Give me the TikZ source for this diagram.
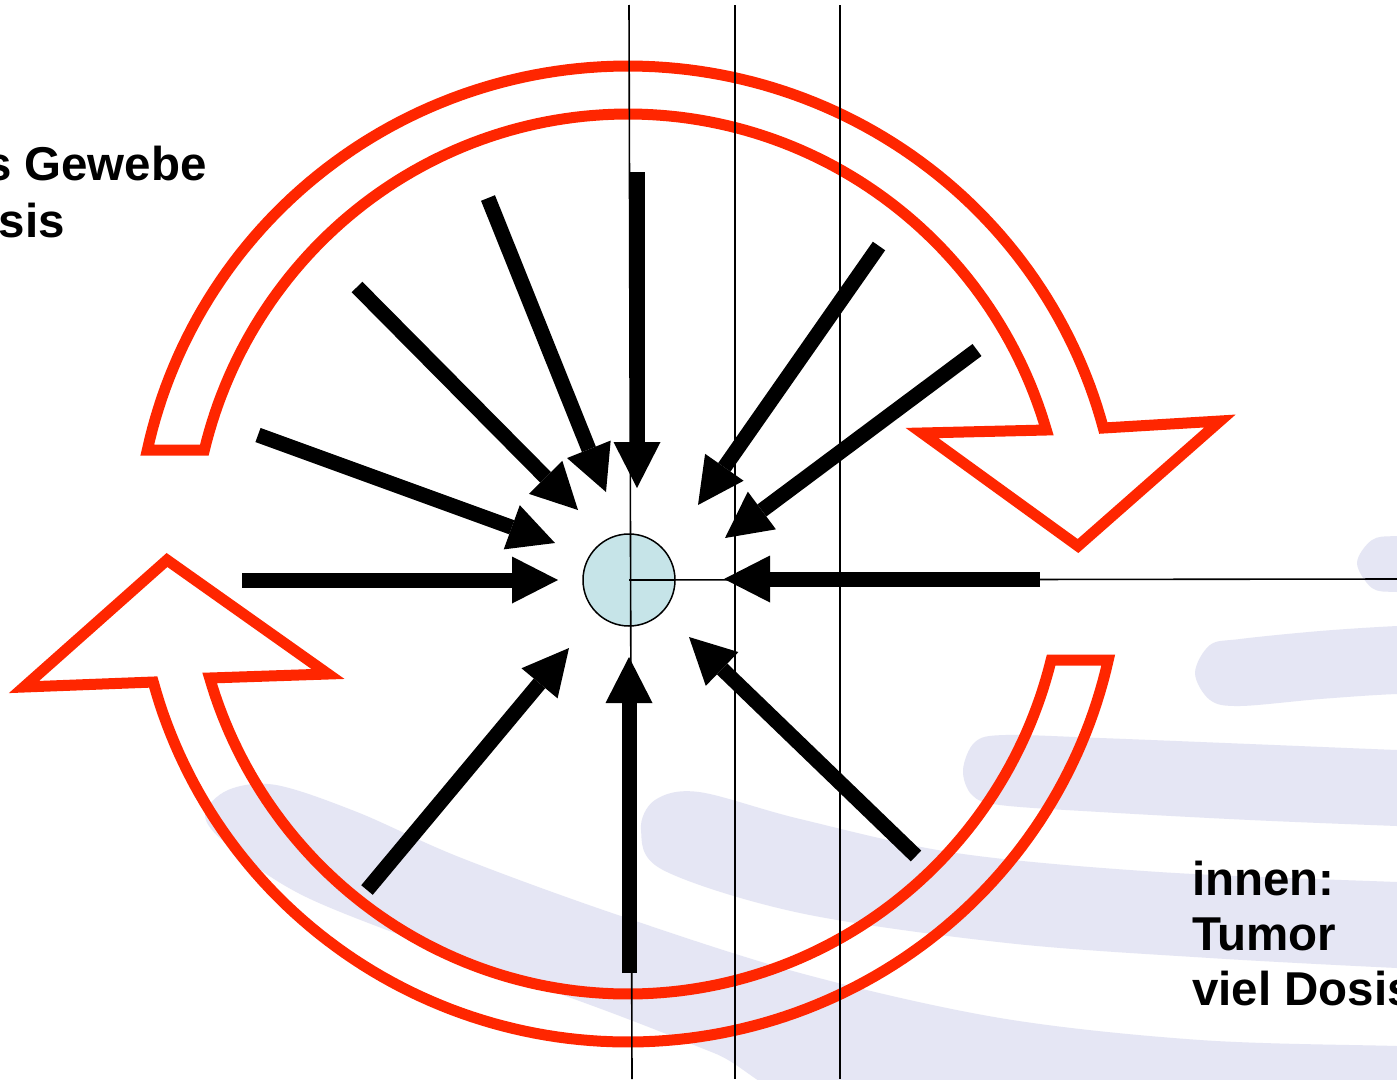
\documentclass[tikz,border=0pt]{standalone}
\usepackage{fontspec}
\setmainfont{Liberation Sans}
\usetikzlibrary{arrows.meta}
\definecolor{ringred}{RGB}{255,38,0}
\definecolor{wmark}{RGB}{229,230,244}
\definecolor{tumorfill}{RGB}{198,228,232}
\begin{document}
\begin{tikzpicture}[x=1pt,y=-1pt,
  ringarrow/.style={draw=ringred, line width=11pt, line join=miter},
  ray/.style={line width=15pt, -{Triangle[length=46pt,width=47pt,line width=0pt]}},
  thinline/.style={line width=1.6pt},
  gridline/.style={line width=2.2pt},
  txt/.style={font=\fontsize{47.5pt}{56pt}\selectfont\bfseries, inner sep=0pt},
  wm/.style={fill=wmark}
]
\useasboundingbox (0,0) rectangle (1397,1079);
\clip (0,0) rectangle (1397,1079);
\fill[white] (0,0) rectangle (1397,1079);

% watermark bands
\fill[wm] plot[smooth cycle, tension=0.55] coordinates {(1357,563) (1372,540) (1397,536) (1460,536) (1460,592) (1397,592) (1372,588)};
\fill[wm] plot[smooth cycle, tension=0.55] coordinates {(1195,673) (1210,645) (1240,639) (1320,631) (1397,626) (1460,624) (1460,694) (1397,694) (1320,699) (1240,706) (1210,700)};
\fill[wm] plot[smooth cycle, tension=0.55] coordinates {(963,770) (975,742) (1005,735) (1100,738) (1250,744) (1397,750) (1460,752) (1460,828) (1397,826) (1250,820) (1100,812) (1000,805) (972,795)};
\fill[wm] plot[smooth cycle, tension=0.55] coordinates {(641,830) (655,800) (699,792) (800,819) (956,853) (1159,872) (1397,882) (1460,884) (1460,970) (1397,968) (1210,958) (1007,943) (800,913) (663,870)};
\fill[wm] plot[smooth cycle, tension=0.55] coordinates {(205,815) (228,790) (276,785) (357,812) (459,857) (612,913) (800,973) (1000,1018) (1200,1040) (1397,1046) (1460,1048) (1460,1140) (880,1120) (714,1053) (612,1013) (459,957) (306,897) (228,845)};

% red circular block arrows
\draw[ringarrow] plot[domain=192.30:345.04, samples=120] ({628+492*cos(\x)},{554+488*sin(\x)})
  -- (1220,421) -- (1078,546) -- (922,433)
  -- plot[domain=343.63:193.67, samples=120] ({628+436*cos(\x)},{554+440*sin(\x)}) -- cycle;
\draw[ringarrow] plot[domain=12.55:164.79, samples=120] ({628+492*cos(\x)},{554+488*sin(\x)})
  -- (24,687) -- (167,560) -- (328,674)
  -- plot[domain=163.63:13.94, samples=120] ({628+436*cos(\x)},{554+440*sin(\x)}) -- cycle;

% tumour
\node[circle, draw, fill=tumorfill, minimum size=92pt, inner sep=0pt, line width=1.5pt] (tumor) at (629,580) {};

% reference lines
\coordinate (vtop) at (629,5);
\coordinate (vbot) at (632,1079);
\coordinate (hend) at (1397,579);
\coordinate (gAtop) at (735,5);
\coordinate (gAbot) at (735,1079);
\coordinate (gBtop) at (840,5);
\coordinate (gBbot) at (840,1079);
\draw[thinline] (vtop) -- (vbot);
\draw[thinline] (tumor.center) -- (hend);
\draw[gridline] (gAtop) -- (gAbot);
\draw[gridline] (gBtop) -- (gBbot);

% beams
\coordinate (t1) at (637,172);  \coordinate (h1) at (637,488);
\coordinate (t2) at (629,973);  \coordinate (h2) at (629,657);
\coordinate (t3) at (242,580);  \coordinate (h3) at (558,580);
\coordinate (t4) at (1040,579); \coordinate (h4) at (724,579);
\coordinate (t5) at (258,435);  \coordinate (h5) at (555,543);
\coordinate (t6) at (357,287);  \coordinate (h6) at (578,510);
\coordinate (t7) at (488,198);  \coordinate (h7) at (606,492);
\coordinate (t8) at (879,246);  \coordinate (h8) at (698,505);
\coordinate (t9) at (977,350);  \coordinate (h9) at (725,538);
\coordinate (t10) at (367,890); \coordinate (h10) at (569,648);
\coordinate (t11) at (916,856); \coordinate (h11) at (689,637);
\foreach \i in {1,...,11} { \draw[ray] (t\i) -- (h\i); }

% texts
\node[txt, anchor=base east] (out1) at (207,180) {gesundes Gewebe};
\node[txt, anchor=base east] (out2) at (65,237) {wenig Dosis};
\node[txt, anchor=base west] (in1) at (1192,895) {innen:};
\node[txt, anchor=base west] (in2) at (1192,950) {Tumor};
\node[txt, anchor=base west] (in3) at (1192,1005) {viel Dosis};
\end{tikzpicture}
\end{document}
